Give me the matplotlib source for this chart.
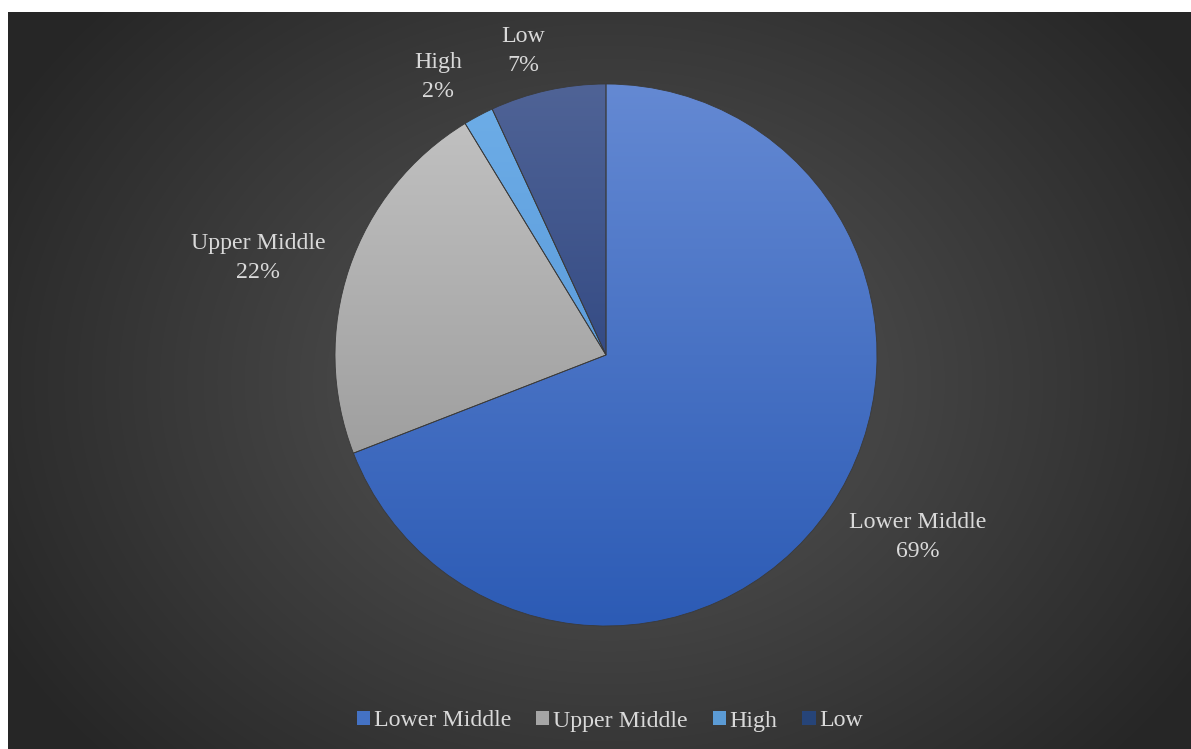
import numpy as np
import matplotlib.pyplot as plt
from matplotlib.colors import LinearSegmentedColormap
from matplotlib.patches import Patch

# доли по категориям дохода
categories = ['Lower Middle', 'Upper Middle', 'High', 'Low']
shares = [69.1, 22.2, 1.8, 6.9]
top_colors = ['#6489d3', '#c4c4c4', '#6eaee8', '#4f6396']
bottom_colors = ['#2c5bb5', '#8e8e8e', '#4b8bcf', '#1b3473']
legend_colors = ['#4472c4', '#a5a5a5', '#5b9bd5', '#264478']
label_pos = [(918, 537), (258, 258), (438, 77), (523, 51)]

W, H = 1191, 749
fig = plt.figure(figsize=(W / 100, H / 100), dpi=100)
fig.patch.set_facecolor('white')

# фон с радиальным градиентом
bg = fig.add_axes([8 / W, 0, 1 - 8 / W, 1 - 12 / H])
bg.set_axis_off()
yy, xx = np.mgrid[0:737, 0:1183]
d = np.sqrt(((xx - 600) / 700) ** 2 + ((yy - 370) / 560) ** 2)
d = np.clip(d, 0, 1)
bg_cmap = LinearSegmentedColormap.from_list('bg', ['#585858', '#262626'])
bg.imshow(d, cmap=bg_cmap, aspect='auto', vmin=0, vmax=1)

# пирог
cx, cy, r = 606, 355, 271
half = 300
ax = fig.add_axes([(cx - half) / W, (H - cy - half) / H, 2 * half / W, 2 * half / H])
ax.set_axis_off()

wedges, _ = ax.pie(shares, startangle=90, counterclock=False, radius=1,
                   colors=legend_colors,
                   wedgeprops=dict(linewidth=0.6, edgecolor='#3a3a3a'))

grad = np.linspace(0, 1, 256).reshape(-1, 1)
for w, c1, c2 in zip(wedges, top_colors, bottom_colors):
    cm = LinearSegmentedColormap.from_list('g', [c1, c2])
    im = ax.imshow(grad, cmap=cm, extent=(-1, 1, -1, 1), aspect='auto',
                   origin='upper', zorder=w.get_zorder() + 0.1)
    im.set_clip_path(w)
    w.set_facecolor('none')
    w.set_zorder(w.get_zorder() + 0.2)
ax.set_xlim(-half / r, half / r)
ax.set_ylim(-half / r, half / r)

txt_color = '#d9d9d9'
for cat, v, (px, py) in zip(categories, shares, label_pos):
    fig.text(px / W, 1 - py / H, f'{cat}\n{round(v)}%', ha='center', va='center',
             color=txt_color, fontsize=17.2, family='Liberation Serif',
             linespacing=1.45)

handles = [Patch(facecolor=c, edgecolor='none') for c in legend_colors]
fig.legend(handles, categories, loc='center', bbox_to_anchor=(610 / W, 1 - 721 / H),
           ncol=4, frameon=False, handlelength=0.55, handleheight=0.55,
           handletextpad=0.15, columnspacing=1.05,
           prop={'family': 'Liberation Serif', 'size': 17.2}, labelcolor=txt_color)

fig.savefig('out.png', dpi=100)
